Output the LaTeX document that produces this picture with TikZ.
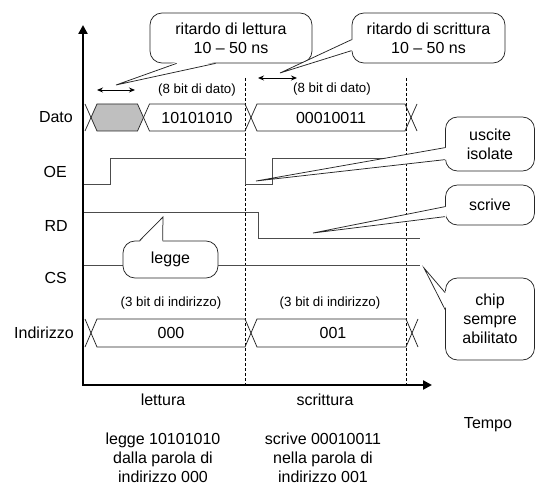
\documentclass[tikz,border=0pt]{standalone}
\usepackage{fontspec}
\setmainfont{Liberation Sans}
\usetikzlibrary{calc,arrows.meta}
\newcommand\mybig{\fontsize{16}{19}\selectfont}
\newcommand\mysmall{\fontsize{13.3}{15}\selectfont}
\tikzset{
  sig/.style={draw=black!70, line width=0.75pt},
  busline/.style={draw=black!85, line width=0.75pt, line join=miter},
  callout/.style={draw=black!85, line width=0.75pt, fill=white, rounded corners=12pt, inner sep=0pt, align=center, font=\mybig},
  ptr/.style={draw=black!85, line width=0.75pt},
  lbl/.style={font=\mybig, inner sep=0pt, align=center},
  slbl/.style={font=\mysmall, inner sep=0pt},
  gridline/.style={draw=black, line width=0.6pt, dash pattern=on 3pt off 2pt},
  dbl/.style={draw=black, line width=0.9pt, {Stealth[length=6pt,width=5pt]}-{Stealth[length=6pt,width=5pt]}},
}
\begin{document}
\begin{tikzpicture}[x=1pt,y=-1pt]
\useasboundingbox (0,0) rectangle (535,486);

% dashed separators
\coordinate (d1t) at (245,78); \coordinate (d1b) at (245,385);
\coordinate (d2t) at (406,78); \coordinate (d2b) at (406,385);
\draw[gridline] (d1t) -- (d1b);
\draw[gridline] (d2t) -- (d2b);

% signal labels
\node[lbl, anchor=east] (lDato) at (73,117.5) {Dato};
\node[lbl, anchor=east] (lOE) at (67,172) {OE};
\node[lbl, anchor=east] (lRD) at (68,226) {RD};
\node[lbl, anchor=east] (lCS) at (67,278) {CS};
\node[lbl, anchor=east] (lInd) at (74,333) {Indirizzo};

% OE
\draw[sig] (84,184) -- (110,184) -- (110,158) -- (245,158) -- (245,184) -- (272,184) -- (272,158) -- (420,158);
% RD
\draw[sig] (84,212) -- (258,212) -- (258,238) -- (420,238);
% CS
\draw[sig] (84,265) -- (420,265);

% Dato bus
\fill[black!25] (91,117.5) -- (97,104) -- (137.5,104) -- (143.5,117.5) -- (137.5,131) -- (97,131) -- cycle;
\foreach \a/\b in {91/143.5,143.5/251,251/411}{
  \draw[busline] (\a,117.5) -- (\a+6,104) -- (\b-6,104) -- (\b,117.5) -- (\b-6,131) -- (\a+6,131) -- cycle;
}
\draw[busline] (85,104) -- (91,117.5) -- (85,131);
\draw[busline] (417,104) -- (411,117.5) -- (417,131);
\node[lbl] (d1) at (197,117.5) {10101010};
\node[lbl] (d2) at (331,117.5) {00010011};
\node[slbl] (b1) at (197,90) {(8 bit di dato)};
\node[slbl] (b2) at (332,89) {(8 bit di dato)};

% Indirizzo bus
\foreach \a/\b in {91/251,251/412}{
  \draw[busline] (\a,333) -- (\a+6,319) -- (\b-6,319) -- (\b,333) -- (\b-6,347) -- (\a+6,347) -- cycle;
}
\draw[busline] (85,319) -- (91,333) -- (85,347);
\draw[busline] (418,319) -- (412,333) -- (418,347);
\node[lbl] (a1) at (171,333) {000};
\node[lbl] (a2) at (333,333) {001};
\node[slbl] (i1) at (171,303) {(3 bit di indirizzo)};
\node[slbl] (i2) at (330,303) {(3 bit di indirizzo)};

% axes
\coordinate (O) at (83,385);
\coordinate (yT) at (83,25);
\coordinate (xT) at (432,385);
\draw[line width=2.5pt, line join=miter, {Triangle[length=9pt,width=9pt]}-{Triangle[length=9pt,width=9pt]}] (yT) -- (O) -- (xT);

% delay arrows
\coordinate (r1a) at (97,90); \coordinate (r1b) at (135,90);
\coordinate (r2a) at (258,78); \coordinate (r2b) at (297,78);
\draw[dbl] (r1a) -- (r1b);
\draw[dbl] (r2a) -- (r2b);

% callouts
\node[callout, minimum width=162pt, minimum height=50pt] (rl) at (231,38) {ritardo di lettura\\10 \textendash\ 50 ns};
\coordinate (rlt) at (116,85);
\fill[white] ($(rl.south west)+(27,-1.5)$) -- (rlt) -- ($(rl.south west)+(66,-1.5)$) -- cycle;
\draw[ptr] ($(rl.south west)+(27,0)$) -- (rlt) -- ($(rl.south west)+(66,0)$);

\node[callout, minimum width=153pt, minimum height=50pt] (rs) at (428.5,38) {ritardo di scrittura\\10 \textendash\ 50 ns};
\coordinate (rst) at (280,73);
\fill[white] ($(rs.north west)+(1.5,27)$) -- (rst) -- ($(rs.north west)+(1.5,38)$) -- cycle;
\draw[ptr] ($(rs.north west)+(0,27)$) -- (rst) -- ($(rs.north west)+(0,38)$);

\node[callout, minimum width=89pt, minimum height=54pt] (usc) at (490,144) {uscite\\isolate};
\coordinate (usct) at (256,181);
\fill[white] ($(usc.north west)+(1.5,31)$) -- (usct) -- ($(usc.north west)+(1.5,43)$) -- cycle;
\draw[ptr] ($(usc.north west)+(0,31)$) -- (usct) -- ($(usc.north west)+(0,43)$);

\node[callout, minimum width=89pt, minimum height=40pt] (scr) at (490,205) {scrive};
\coordinate (scrt) at (313,233);
\fill[white] ($(scr.north west)+(1.5,22)$) -- (scrt) -- ($(scr.north west)+(1.5,32)$) -- cycle;
\draw[ptr] ($(scr.north west)+(0,22)$) -- (scrt) -- ($(scr.north west)+(0,32)$);

\node[callout, minimum width=89pt, minimum height=82pt] (chip) at (490,319) {chip\\sempre\\abilitato};
\coordinate (chipt) at (424,268);
\fill[white] ($(chip.north west)+(1.5,15)$) -- (chipt) -- ($(chip.north west)+(1.5,32)$) -- cycle;
\draw[ptr] ($(chip.north west)+(0,15)$) -- (chipt) -- ($(chip.north west)+(0,32)$);

\node[callout, minimum width=95pt, minimum height=37pt] (leg) at (170.5,259.5) {legge};
\coordinate (legt) at (163,217);
\fill[white] ($(leg.north west)+(17,1.5)$) -- (legt) -- ($(leg.north west)+(40,1.5)$) -- cycle;
\draw[ptr] ($(leg.north west)+(17,0)$) -- (legt) -- ($(leg.north west)+(40,0)$);

% bottom labels
\node[lbl] (let) at (163,400) {lettura};
\node[lbl] (scrl) at (325,400) {scrittura};
\node[lbl] (tempo) at (488,425) {Tempo};
\node[lbl] (desc1) at (163,458) {legge 10101010\\dalla parola di\\indirizzo 000};
\node[lbl] (desc2) at (323,458) {scrive 00010011\\nella parola di\\indirizzo 001};
\end{tikzpicture}
\end{document}
